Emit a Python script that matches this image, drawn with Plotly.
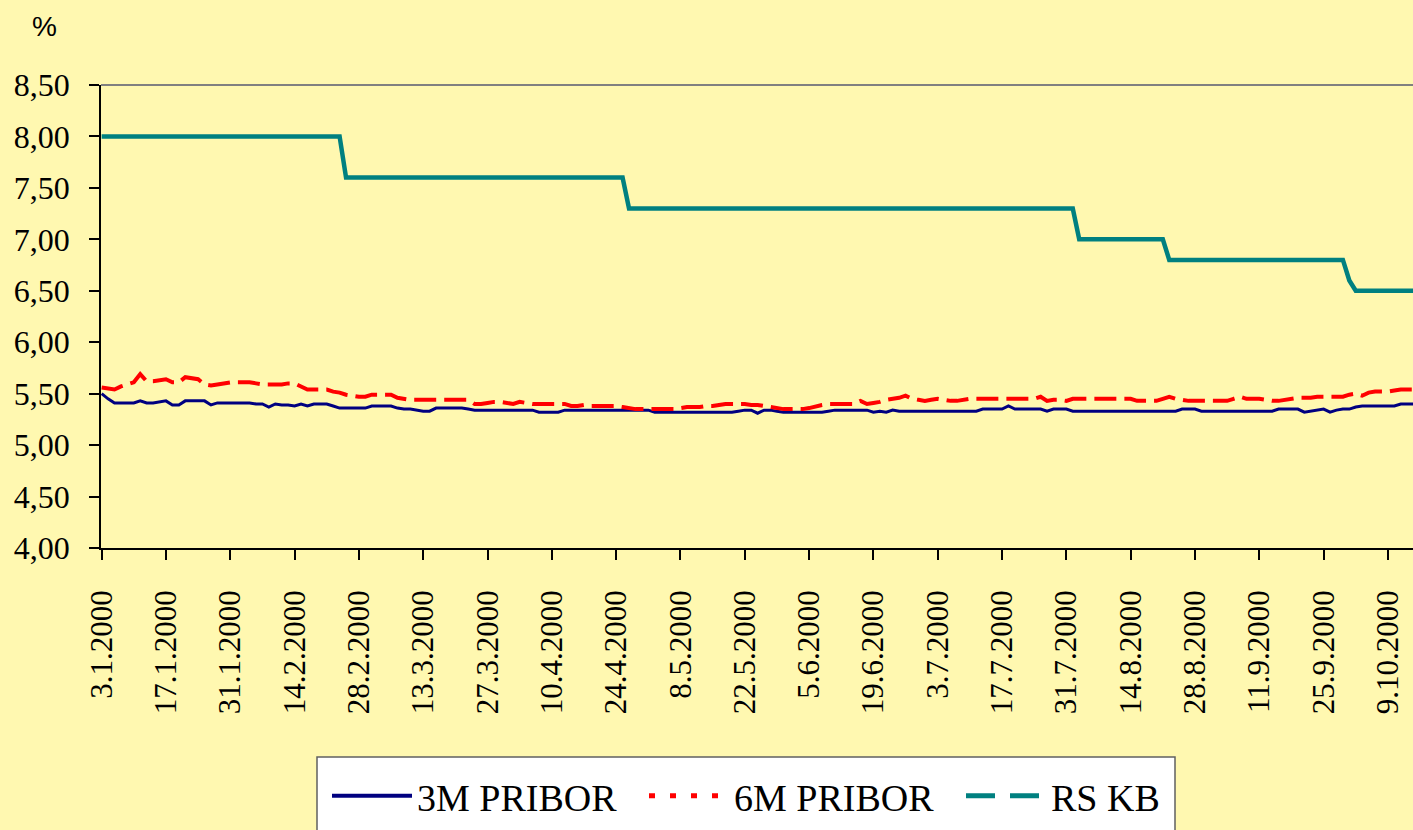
import pandas as pd
import plotly.graph_objects as go

# ---------------- data ----------------
START_DATE = "2000-01-03"
N_DAYS = 205

TICK_LABELS = ["3.1.2000", "17.1.2000", "31.1.2000", "14.2.2000", "28.2.2000",
               "13.3.2000", "27.3.2000", "10.4.2000", "24.4.2000", "8.5.2000",
               "22.5.2000", "5.6.2000", "19.6.2000", "3.7.2000", "17.7.2000",
               "31.7.2000", "14.8.2000", "28.8.2000", "11.9.2000", "25.9.2000",
               "9.10.2000"]

PRIBOR_3M = [
    5.50, 5.45, 5.41, 5.41, 5.41, 5.41, 5.43, 5.41, 5.41, 5.42,
    5.43, 5.39, 5.39, 5.43, 5.43, 5.43, 5.43, 5.39, 5.41, 5.41,
    5.41, 5.41, 5.41, 5.41, 5.40, 5.40, 5.37, 5.40, 5.39, 5.39,
    5.38, 5.40, 5.38, 5.40, 5.40, 5.40, 5.38, 5.36, 5.36, 5.36,
    5.36, 5.36, 5.38, 5.38, 5.38, 5.38, 5.36, 5.35, 5.35, 5.34,
    5.33, 5.33, 5.36, 5.36, 5.36, 5.36, 5.36, 5.35, 5.34, 5.34,
    5.34, 5.34, 5.34, 5.34, 5.34, 5.34, 5.34, 5.34, 5.32, 5.32,
    5.32, 5.32, 5.34, 5.34, 5.34, 5.34, 5.34, 5.34, 5.34, 5.34,
    5.34, 5.34, 5.34, 5.34, 5.34, 5.34, 5.32, 5.32, 5.32, 5.32,
    5.32, 5.32, 5.32, 5.32, 5.32, 5.32, 5.32, 5.32, 5.32, 5.33,
    5.34, 5.34, 5.31, 5.34, 5.34, 5.33, 5.32, 5.32, 5.32, 5.32,
    5.32, 5.32, 5.32, 5.33, 5.34, 5.34, 5.34, 5.34, 5.34, 5.34,
    5.32, 5.33, 5.32, 5.34, 5.33, 5.33, 5.33, 5.33, 5.33, 5.33,
    5.33, 5.33, 5.33, 5.33, 5.33, 5.33, 5.33, 5.35, 5.35, 5.35,
    5.35, 5.38, 5.35, 5.35, 5.35, 5.35, 5.35, 5.33, 5.35, 5.35,
    5.35, 5.33, 5.33, 5.33, 5.33, 5.33, 5.33, 5.33, 5.33, 5.33,
    5.33, 5.33, 5.33, 5.33, 5.33, 5.33, 5.33, 5.33, 5.35, 5.35,
    5.35, 5.33, 5.33, 5.33, 5.33, 5.33, 5.33, 5.33, 5.33, 5.33,
    5.33, 5.33, 5.33, 5.35, 5.35, 5.35, 5.35, 5.32, 5.33, 5.34,
    5.35, 5.32, 5.34, 5.35, 5.35, 5.37, 5.38, 5.38, 5.38, 5.38,
    5.38, 5.38, 5.40, 5.40, 5.40,
]

PRIBOR_6M = [
    5.56, 5.55, 5.54, 5.57, 5.59, 5.61, 5.69, 5.62, 5.62, 5.63,
    5.64, 5.61, 5.61, 5.66, 5.65, 5.64, 5.59, 5.58, 5.59, 5.60,
    5.61, 5.61, 5.61, 5.61, 5.60, 5.59, 5.59, 5.59, 5.59, 5.60,
    5.60, 5.57, 5.54, 5.54, 5.54, 5.54, 5.52, 5.51, 5.49, 5.48,
    5.47, 5.47, 5.49, 5.49, 5.49, 5.49, 5.46, 5.45, 5.44, 5.44,
    5.44, 5.44, 5.44, 5.44, 5.44, 5.44, 5.44, 5.44, 5.40, 5.40,
    5.41, 5.42, 5.42, 5.41, 5.40, 5.42, 5.41, 5.40, 5.40, 5.40,
    5.40, 5.40, 5.40, 5.38, 5.38, 5.39, 5.38, 5.38, 5.38, 5.38,
    5.38, 5.37, 5.36, 5.35, 5.35, 5.35, 5.35, 5.35, 5.35, 5.35,
    5.36, 5.37, 5.37, 5.37, 5.38, 5.38, 5.39, 5.40, 5.40, 5.40,
    5.40, 5.39, 5.39, 5.38, 5.37, 5.36, 5.35, 5.35, 5.35, 5.35,
    5.36, 5.38, 5.39, 5.40, 5.40, 5.40, 5.40, 5.40, 5.43, 5.40,
    5.41, 5.42, 5.44, 5.45, 5.46, 5.48, 5.45, 5.44, 5.43, 5.44,
    5.45, 5.44, 5.43, 5.43, 5.44, 5.45, 5.45, 5.45, 5.45, 5.45,
    5.45, 5.45, 5.45, 5.45, 5.45, 5.45, 5.47, 5.43, 5.44, 5.44,
    5.43, 5.45, 5.45, 5.45, 5.45, 5.45, 5.45, 5.45, 5.45, 5.45,
    5.45, 5.43, 5.43, 5.43, 5.43, 5.45, 5.47, 5.45, 5.44, 5.43,
    5.43, 5.43, 5.43, 5.43, 5.43, 5.43, 5.45, 5.47, 5.45, 5.45,
    5.45, 5.44, 5.43, 5.43, 5.44, 5.45, 5.46, 5.46, 5.46, 5.47,
    5.47, 5.47, 5.47, 5.47, 5.49, 5.50, 5.48, 5.51, 5.52, 5.52,
    5.52, 5.53, 5.54, 5.54, 5.54,
]

RS_KB = [
    8.00, 8.00, 8.00, 8.00, 8.00, 8.00, 8.00, 8.00, 8.00, 8.00,
    8.00, 8.00, 8.00, 8.00, 8.00, 8.00, 8.00, 8.00, 8.00, 8.00,
    8.00, 8.00, 8.00, 8.00, 8.00, 8.00, 8.00, 8.00, 8.00, 8.00,
    8.00, 8.00, 8.00, 8.00, 8.00, 8.00, 8.00, 8.00, 7.60, 7.60,
    7.60, 7.60, 7.60, 7.60, 7.60, 7.60, 7.60, 7.60, 7.60, 7.60,
    7.60, 7.60, 7.60, 7.60, 7.60, 7.60, 7.60, 7.60, 7.60, 7.60,
    7.60, 7.60, 7.60, 7.60, 7.60, 7.60, 7.60, 7.60, 7.60, 7.60,
    7.60, 7.60, 7.60, 7.60, 7.60, 7.60, 7.60, 7.60, 7.60, 7.60,
    7.60, 7.60, 7.30, 7.30, 7.30, 7.30, 7.30, 7.30, 7.30, 7.30,
    7.30, 7.30, 7.30, 7.30, 7.30, 7.30, 7.30, 7.30, 7.30, 7.30,
    7.30, 7.30, 7.30, 7.30, 7.30, 7.30, 7.30, 7.30, 7.30, 7.30,
    7.30, 7.30, 7.30, 7.30, 7.30, 7.30, 7.30, 7.30, 7.30, 7.30,
    7.30, 7.30, 7.30, 7.30, 7.30, 7.30, 7.30, 7.30, 7.30, 7.30,
    7.30, 7.30, 7.30, 7.30, 7.30, 7.30, 7.30, 7.30, 7.30, 7.30,
    7.30, 7.30, 7.30, 7.30, 7.30, 7.30, 7.30, 7.30, 7.30, 7.30,
    7.30, 7.30, 7.00, 7.00, 7.00, 7.00, 7.00, 7.00, 7.00, 7.00,
    7.00, 7.00, 7.00, 7.00, 7.00, 7.00, 6.80, 6.80, 6.80, 6.80,
    6.80, 6.80, 6.80, 6.80, 6.80, 6.80, 6.80, 6.80, 6.80, 6.80,
    6.80, 6.80, 6.80, 6.80, 6.80, 6.80, 6.80, 6.80, 6.80, 6.80,
    6.80, 6.80, 6.80, 6.80, 6.60, 6.50, 6.50, 6.50, 6.50, 6.50,
    6.50, 6.50, 6.50, 6.50, 6.50,
]

SERIES_NAMES = ["3M PRIBOR", "6M PRIBOR", "RS KB"]
Y_TICKS = [4.0, 4.5, 5.0, 5.5, 6.0, 6.5, 7.0, 7.5, 8.0, 8.5]

# --------------- styling ----------------
BG = "#FFF8B0"
NAVY = "#000080"
RED = "#FF0000"
TEAL = "#008080"
SERIF = "Liberation Serif, Times New Roman, serif"

dates = pd.bdate_range(start=START_DATE, periods=N_DAYS)
cats = [f"{d.day}.{d.month}.{d.year}" for d in dates]

fig = go.Figure()
fig.add_trace(go.Scatter(x=cats, y=PRIBOR_3M, mode="lines", name=SERIES_NAMES[0],
                         line=dict(color=NAVY, width=3), showlegend=False))
fig.add_trace(go.Scatter(x=cats, y=PRIBOR_6M, mode="lines", name=SERIES_NAMES[1],
                         line=dict(color=RED, width=4, dash="22px,8px"), showlegend=False))
fig.add_trace(go.Scatter(x=cats, y=RS_KB, mode="lines", name=SERIES_NAMES[2],
                         line=dict(color=TEAL, width=4.5), showlegend=False))

# legend entries (styles as in the reference legend)
fig.add_trace(go.Scatter(x=[None], y=[None], mode="lines", name=SERIES_NAMES[0],
                         line=dict(color=NAVY, width=4)))
fig.add_trace(go.Scatter(x=[None], y=[None], mode="lines", name=SERIES_NAMES[1],
                         line=dict(color=RED, width=5, dash="6px,15px")))
fig.add_trace(go.Scatter(x=[None], y=[None], mode="lines", name=SERIES_NAMES[2],
                         line=dict(color=TEAL, width=5, dash="29px,15px")))

W, H = 1413, 830
L, R, T, B = 101, 0, 85, 282
PW, PH = W - L - R, H - T - B


def px(xp):
    return (xp - L) / PW


def py(yp):
    return (H - B - yp) / PH


fig.update_layout(
    width=W, height=H,
    margin=dict(l=L, r=R, t=T, b=B, autoexpand=False),
    paper_bgcolor=BG, plot_bgcolor=BG,
    separators=", ",
    font=dict(family=SERIF, size=31, color="black"),
    xaxis=dict(
        type="category", range=[-0.1, 203.9],
        tickmode="array", tickvals=TICK_LABELS, ticktext=TICK_LABELS,
        tickangle=-90, ticks="outside", ticklen=10, tickwidth=1.5, tickcolor="black",
        showline=True, linecolor="black", linewidth=1.5,
        showgrid=False, zeroline=False,
        tickfont=dict(family=SERIF, size=31, color="black"),
        ticklabelstandoff=18,
    ),
    yaxis=dict(
        range=[4.0, 8.5], tickmode="array", tickvals=Y_TICKS, tickformat=".2f",
        ticks="outside", ticklen=10, tickwidth=1.5, tickcolor="black",
        showline=True, linecolor="black", linewidth=1.5,
        showgrid=False, zeroline=False,
        tickfont=dict(family=SERIF, size=32, color="black"),
        ticklabelstandoff=13,
    ),
    legend=dict(
        orientation="h", x=px(327), y=py(796), xanchor="left", yanchor="middle",
        bgcolor="rgba(0,0,0,0)", borderwidth=0,
        font=dict(family=SERIF, size=38, color="black"),
        itemwidth=80,
        entrywidth=222, entrywidthmode="pixels",
    ),
    shapes=[
        dict(type="line", xref="paper", yref="paper", x0=0, x1=1, y0=1, y1=1,
             line=dict(color="#808080", width=2)),
        dict(type="rect", xref="paper", yref="paper", layer="below",
             x0=px(317), x1=px(1175), y0=py(757), y1=py(845),
             fillcolor="white", line=dict(color="#606060", width=1.5)),
    ],
    annotations=[
        dict(text="%", xref="paper", yref="paper", x=px(45), y=py(27),
             xanchor="center", yanchor="middle", showarrow=False,
             font=dict(family="Liberation Sans, Arial, sans-serif", size=28, color="black")),
    ],
)

fig.write_html(
    "out.html",
    config={"displayModeBar": False},
    post_script="document.body.style.margin='0px';"
                "document.body.style.background='#FFF8B0';"
                "document.body.style.overflow='hidden';",
)
